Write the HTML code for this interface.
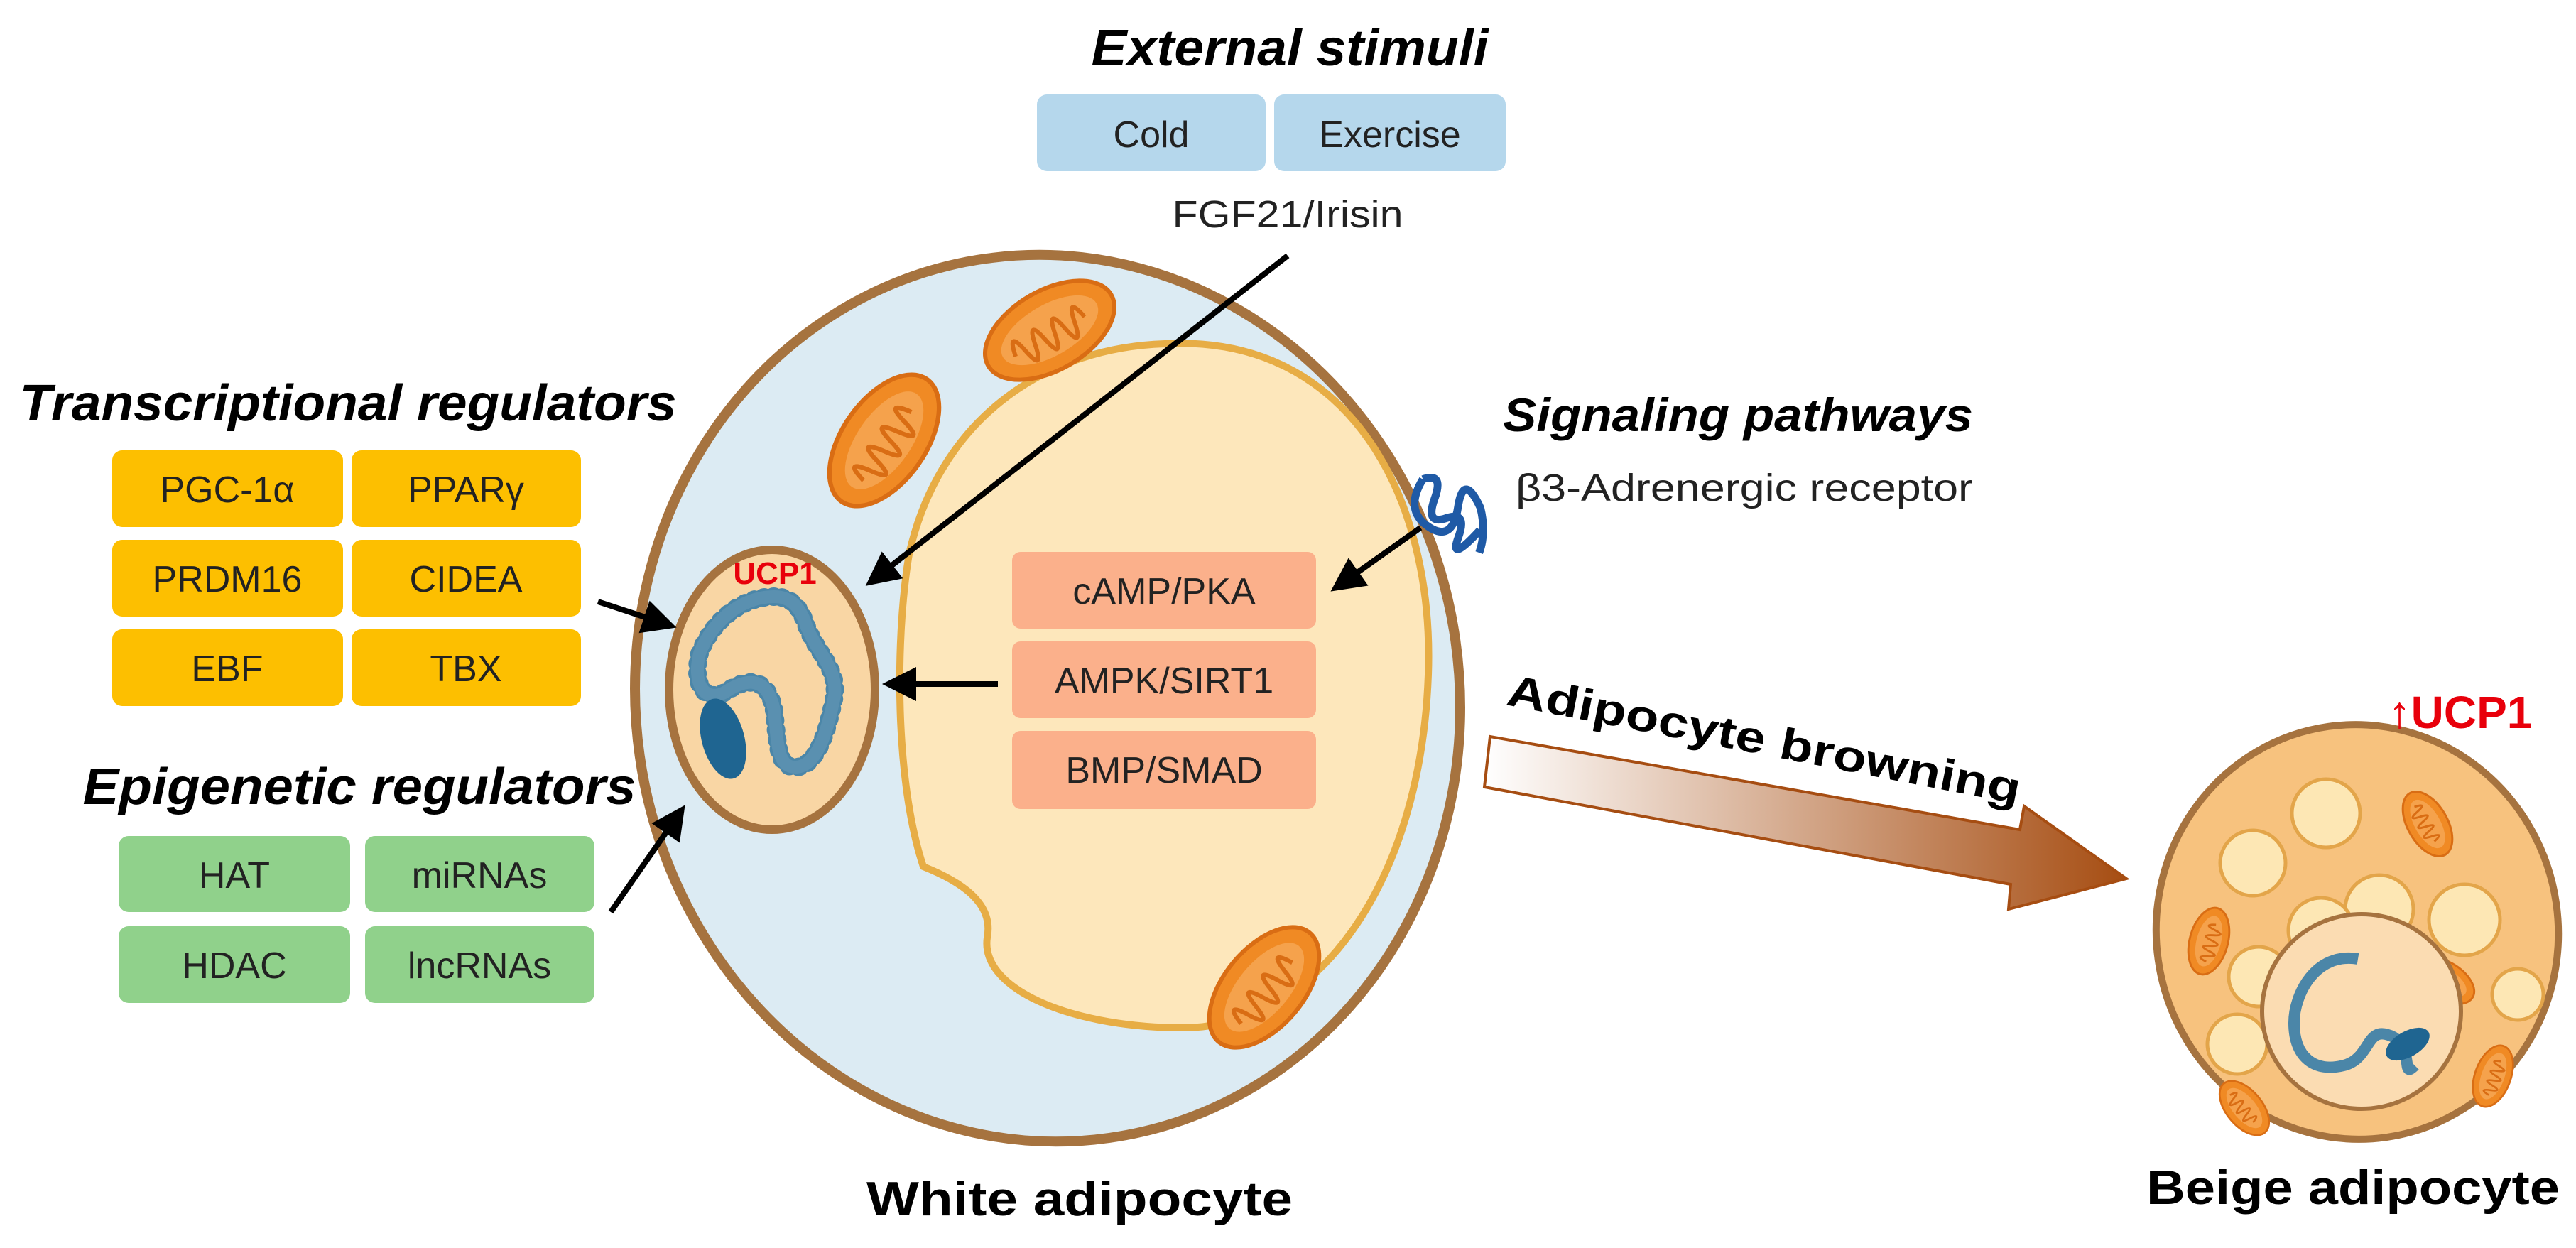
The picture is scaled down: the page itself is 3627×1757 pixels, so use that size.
<!DOCTYPE html>
<html><head><meta charset="utf-8"><style>
html,body{margin:0;padding:0;background:#fff;}
svg{display:block;}
text{font-family:"Liberation Sans",sans-serif;}
</style></head><body>
<svg width="3627" height="1757" viewBox="0 0 3627 1757" xmlns="http://www.w3.org/2000/svg">
<defs>
<linearGradient id="bg" x1="0" y1="0" x2="1" y2="0">
<stop offset="0" stop-color="#ffffff"/><stop offset="1" stop-color="#a64d12"/>
</linearGradient>
<marker id="ah" markerWidth="6" markerHeight="6" refX="5" refY="3" orient="auto" markerUnits="strokeWidth">
<path d="M0,0 L6,3 L0,6 Z" fill="#000"/>
</marker>
<g id="mito">
<ellipse cx="0" cy="0" rx="100" ry="56" fill="#f08a24" stroke="#d96d14" stroke-width="6"/>
<ellipse cx="0" cy="0" rx="76" ry="36" fill="#f5a24c"/>
<path d="M-60,8 q8,-40 16,0 q8,40 16,0 q8,-40 16,0 q8,40 16,0 q8,-40 16,0 q8,40 16,0 q8,-40 16,0" fill="none" stroke="#d96d14" stroke-width="6"/>
</g>
</defs>

<!-- External stimuli -->
<text x="1816" y="92" font-size="72" font-weight="bold" font-style="italic" text-anchor="middle" textLength="559" lengthAdjust="spacingAndGlyphs">External stimuli</text>
<rect x="1460" y="133" width="322" height="108" rx="14" fill="#b5d7ec"/>
<rect x="1794" y="133" width="326" height="108" rx="14" fill="#b5d7ec"/>
<text x="1621" y="207" font-size="52" text-anchor="middle" fill="#222">Cold</text>
<text x="1957" y="207" font-size="52" text-anchor="middle" fill="#222">Exercise</text>
<text x="1813" y="320" font-size="54" text-anchor="middle" fill="#222" textLength="325" lengthAdjust="spacingAndGlyphs">FGF21/Irisin</text>

<!-- White cell -->
<ellipse cx="1475" cy="983" rx="580" ry="625" fill="#dcebf3" stroke="#a6733f" stroke-width="14" transform="rotate(-8 1475 983)"/>
<path d="M1640 484 C1900 470 2020 700 2011 950 C2000 1250 1850 1450 1660 1447 C1500 1445 1380 1390 1390 1320 C1400 1270 1350 1240 1300 1220 C1260 1100 1260 900 1280 780 C1320 600 1460 490 1640 484 Z" fill="#fde7bb" stroke="#e7ad45" stroke-width="10"/>

<use href="#mito" transform="translate(1478,465) rotate(-30)"/>
<use href="#mito" transform="translate(1245,620) rotate(-55) scale(1.05)"/>
<use href="#mito" transform="translate(1780,1390) rotate(-50)"/>

<!-- Nucleus -->
<ellipse cx="1087" cy="971" rx="145" ry="197" fill="#f9d6a4" stroke="#a6733f" stroke-width="12"/>
<path d="M1090 840 C1040 840 1000 880 985 920 C975 960 990 990 1020 975 C1050 955 1080 950 1090 1000 C1095 1050 1095 1080 1120 1080 C1150 1080 1165 1030 1175 980 C1180 940 1150 920 1135 880 C1125 850 1110 840 1090 840 Z" fill="none" stroke="#4b86a8" stroke-width="26" stroke-linecap="round" stroke-dasharray="1 13"/>
<path d="M1090 840 C1040 840 1000 880 985 920 C975 960 990 990 1020 975 C1050 955 1080 950 1090 1000 C1095 1050 1095 1080 1120 1080 C1150 1080 1165 1030 1175 980 C1180 940 1150 920 1135 880 C1125 850 1110 840 1090 840" fill="none" stroke="#5a90b0" stroke-width="18"/>
<ellipse cx="1018" cy="1040" rx="30" ry="58" fill="#1f6591" transform="rotate(-15 1018 1040)"/>
<text x="1091" y="822" font-size="44" font-weight="bold" fill="#e8000b" text-anchor="middle">UCP1</text>

<!-- Receptor -->
<path d="M1990 690 q25 -20 25 20 t25 20 t25 20 t25 -20 M1990 690 q-10 50 30 60 q40 10 30 -40 q-10 -50 30 -10 q20 30 20 60" fill="none" stroke="#1f5aa6" stroke-width="11" transform="rotate(20 2040 720)"/>

<!-- Transcriptional regulators -->
<text x="490" y="592" font-size="72" font-weight="bold" font-style="italic" text-anchor="middle" textLength="925" lengthAdjust="spacingAndGlyphs">Transcriptional regulators</text>
<g fill="#fdbf00">
<rect x="158" y="634" width="325" height="108" rx="14"/><rect x="495" y="634" width="323" height="108" rx="14"/>
<rect x="158" y="760" width="325" height="108" rx="14"/><rect x="495" y="760" width="323" height="108" rx="14"/>
<rect x="158" y="886" width="325" height="108" rx="14"/><rect x="495" y="886" width="323" height="108" rx="14"/>
</g>
<g font-size="52" text-anchor="middle" fill="#222">
<text x="320" y="707">PGC-1α</text><text x="656" y="707">PPARγ</text>
<text x="320" y="833">PRDM16</text><text x="656" y="833">CIDEA</text>
<text x="320" y="959">EBF</text><text x="656" y="959">TBX</text>
</g>

<!-- Epigenetic regulators -->
<text x="506" y="1132" font-size="72" font-weight="bold" font-style="italic" text-anchor="middle" textLength="779" lengthAdjust="spacingAndGlyphs">Epigenetic regulators</text>
<g fill="#90d18b">
<rect x="167" y="1177" width="326" height="107" rx="14"/><rect x="514" y="1177" width="323" height="107" rx="14"/>
<rect x="167" y="1304" width="326" height="108" rx="14"/><rect x="514" y="1304" width="323" height="108" rx="14"/>
</g>
<g font-size="52" text-anchor="middle" fill="#222">
<text x="330" y="1250">HAT</text><text x="675" y="1250">miRNAs</text>
<text x="330" y="1377">HDAC</text><text x="675" y="1377">lncRNAs</text>
</g>

<!-- Signaling -->
<text x="2447" y="607" font-size="66" font-weight="bold" font-style="italic" text-anchor="middle" textLength="662" lengthAdjust="spacingAndGlyphs">Signaling pathways</text>
<text x="2456" y="705" font-size="54" text-anchor="middle" fill="#222" textLength="644" lengthAdjust="spacingAndGlyphs">β3-Adrenergic receptor</text>
<g fill="#fbb08b">
<rect x="1425" y="777" width="428" height="108" rx="12"/>
<rect x="1425" y="903" width="428" height="108" rx="12"/>
<rect x="1425" y="1029" width="428" height="110" rx="12"/>
</g>
<g font-size="52" text-anchor="middle" fill="#222">
<text x="1639" y="850">cAMP/PKA</text><text x="1639" y="976">AMPK/SIRT1</text><text x="1639" y="1102">BMP/SMAD</text>
</g>

<!-- Arrows -->
<g stroke="#000" stroke-width="8" fill="none" marker-end="url(#ah)">
<line x1="1813" y1="360" x2="1225" y2="820"/>
<line x1="2000" y1="743" x2="1880" y2="828"/>
<line x1="1405" y1="963" x2="1250" y2="963"/>
<line x1="842" y1="847" x2="945" y2="881"/>
<line x1="860" y1="1284" x2="960" y2="1140"/>
</g>

<!-- Browning arrow -->
<path d="M2098 1037 L2844 1168 L2850 1135 L2994 1237 L2828 1280 L2831 1245 L2090 1108 Z" fill="url(#bg)" stroke="#a64d12" stroke-width="4"/>
<text x="2480" y="1062" font-size="62" font-weight="bold" text-anchor="middle" transform="rotate(11 2480 1062)" textLength="735" lengthAdjust="spacingAndGlyphs">Adipocyte browning</text>

<!-- Beige cell -->
<ellipse cx="3319" cy="1312" rx="283" ry="292" fill="#f7c27e" stroke="#a6733f" stroke-width="10" transform="rotate(-8 3319 1312)"/>
<g fill="#fde7b4" stroke="#e3a54a" stroke-width="5">
<circle cx="3275" cy="1145" r="48"/><circle cx="3172" cy="1215" r="46"/><circle cx="3350" cy="1280" r="48"/>
<circle cx="3268" cy="1310" r="46"/><circle cx="3470" cy="1295" r="50"/><circle cx="3180" cy="1375" r="42"/>
<circle cx="3545" cy="1400" r="36"/><circle cx="3150" cy="1470" r="42"/>
</g>
<use href="#mito" transform="translate(3418,1160) rotate(60) scale(0.5)"/>
<use href="#mito" transform="translate(3110,1325) rotate(-75) scale(0.48)"/>
<use href="#mito" transform="translate(3440,1380) rotate(30) scale(0.48)"/>
<use href="#mito" transform="translate(3510,1515) rotate(-70) scale(0.45)"/>
<use href="#mito" transform="translate(3160,1560) rotate(50) scale(0.45)"/>
<ellipse cx="3325" cy="1424" rx="140" ry="137" fill="#fbdcb2" stroke="#a6733f" stroke-width="6"/>
<path d="M3320 1350 C3260 1340 3230 1400 3230 1440 C3230 1490 3260 1510 3300 1500 C3340 1490 3330 1440 3370 1460 C3400 1480 3380 1520 3400 1500" fill="none" stroke="#4b86a8" stroke-width="16"/>
<ellipse cx="3390" cy="1470" rx="34" ry="18" fill="#1f6591" transform="rotate(-30 3390 1470)"/>
<text x="3464" y="1025" font-size="64" font-weight="bold" fill="#e8000b" text-anchor="middle">↑UCP1</text>

<text x="1520" y="1711" font-size="68" font-weight="bold" text-anchor="middle" textLength="600" lengthAdjust="spacingAndGlyphs">White adipocyte</text>
<text x="3313" y="1695" font-size="68" font-weight="bold" text-anchor="middle" textLength="582" lengthAdjust="spacingAndGlyphs">Beige adipocyte</text>
</svg>
</body></html>
